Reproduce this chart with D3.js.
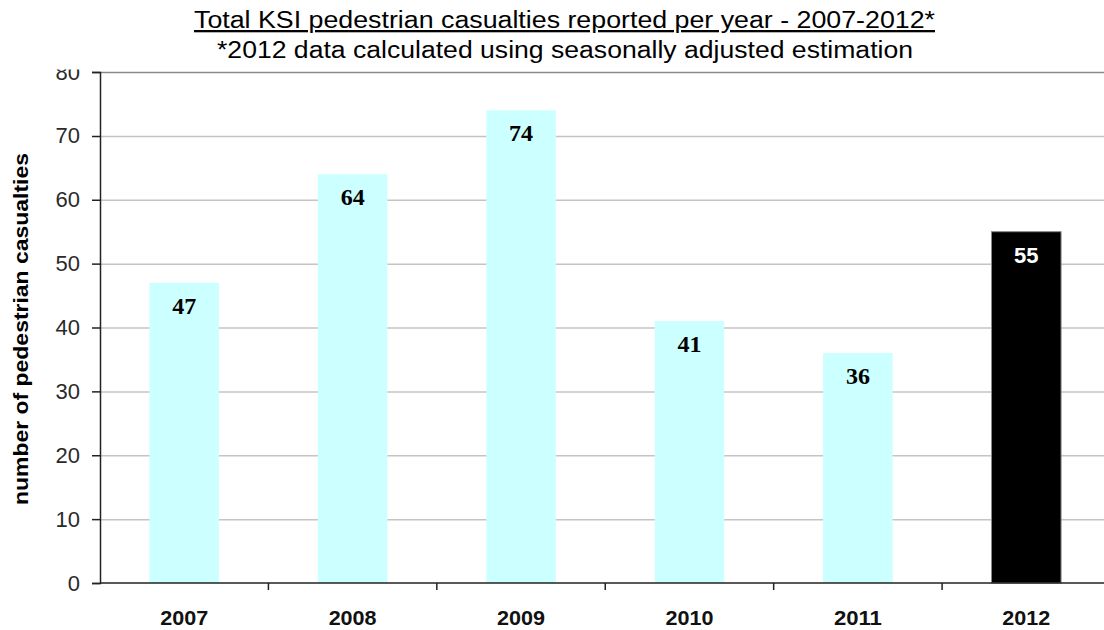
<!DOCTYPE html>
<html>
<head>
<meta charset="utf-8">
<script src="https://cdn.jsdelivr.net/npm/d3@7"></script>
<style>
  html, body { margin: 0; padding: 0; background: #fff; }
  svg { display: block; }
</style>
</head>
<body>
<svg id="chart" width="1104" height="630"></svg>
<script>
// KSI (killed or seriously injured) pedestrian casualties per year
const years = ["2007", "2008", "2009", "2010", "2011", "2012"];
const casualties = [47, 64, 74, 41, 36, 55];
const estimated = [false, false, false, false, false, true];
const yTicks = [0, 10, 20, 30, 40, 50, 60, 70, 80];

const titleText = "Total KSI pedestrian casualties reported per year - 2007-2012*";
const subtitleText = "*2012 data calculated using seasonally adjusted estimation";
const yAxisTitle = "number of pedestrian casualties";

const svg = d3.select("#chart");
const plot = { left: 100, right: 1110.5, top: 72, bottom: 583 };
const sans = "'Liberation Sans', Arial, sans-serif";

const x = d3.scaleBand()
  .domain(years)
  .range([plot.left, plot.right])
  .paddingInner(0.587)
  .paddingOuter(0.2935);

const y = d3.scaleLinear()
  .domain([0, 80])
  .range([plot.bottom, plot.top]);

// the chart frame crops anything drawn above its top edge
svg.append("defs").append("clipPath")
  .attr("id", "frame")
  .append("rect")
  .attr("x", 0).attr("y", 69.5)
  .attr("width", 1104).attr("height", 630 - 69.5);

// horizontal gridlines
svg.append("g")
  .selectAll("line")
  .data(yTicks.filter(t => t > 0 && t < 80))
  .join("line")
  .attr("x1", plot.left).attr("x2", plot.right)
  .attr("y1", d => y(d) + 0.5).attr("y2", d => y(d) + 0.5)
  .attr("stroke", "#c4c4c4")
  .attr("stroke-width", 1.5);

// top border of plot area
svg.append("line")
  .attr("x1", plot.left).attr("x2", plot.right)
  .attr("y1", y(80) + 0.5).attr("y2", y(80) + 0.5)
  .attr("stroke", "#8a8a8a")
  .attr("stroke-width", 1.5);

// bars
svg.append("g")
  .selectAll("rect")
  .data(years)
  .join("rect")
  .attr("x", d => x(d))
  .attr("width", x.bandwidth())
  .attr("y", (d, i) => y(casualties[i]))
  .attr("height", (d, i) => y(0) - y(casualties[i]))
  .attr("fill", (d, i) => estimated[i] ? "#000000" : "#ccffff")
  .attr("stroke", (d, i) => estimated[i] ? "#8a8a8a" : "none")
  .attr("stroke-width", 1);

// value labels inside bar tops
svg.append("g")
  .selectAll("text")
  .data(years)
  .join("text")
  .attr("x", d => x(d) + x.bandwidth() / 2)
  .attr("y", (d, i) => y(casualties[i]) + 31)
  .attr("text-anchor", "middle")
  .attr("font-family", (d, i) => estimated[i] ? sans : "'Liberation Serif', 'Times New Roman', serif")
  .attr("font-weight", "bold")
  .attr("font-size", (d, i) => estimated[i] ? 22 : 24)
  .attr("fill", (d, i) => estimated[i] ? "#ffffff" : "#000000")
  .text((d, i) => casualties[i]);

// y axis (clipped at the frame top)
const yAxis = d3.axisLeft(y)
  .tickValues(yTicks)
  .tickSize(8)
  .tickPadding(12)
  .tickFormat(d3.format("d"));

const gy = svg.append("g")
  .attr("clip-path", "url(#frame)")
  .append("g")
  .attr("transform", `translate(${plot.left},0)`)
  .call(yAxis);
gy.select(".domain").attr("stroke", "#222").attr("stroke-width", 1.5);
gy.selectAll(".tick line").attr("stroke", "#222").attr("stroke-width", 1.5);
gy.selectAll(".tick text")
  .attr("font-family", sans)
  .attr("font-size", 22)
  .attr("fill", "#2a2a2a");

// x axis: baseline with ticks at category boundaries
svg.append("line")
  .attr("x1", plot.left).attr("x2", plot.right)
  .attr("y1", plot.bottom).attr("y2", plot.bottom)
  .attr("stroke", "#222").attr("stroke-width", 1.5);

const boundaries = years.slice(1).map(d => x(d) - x.step() * x.paddingInner() / 2);
svg.append("g")
  .selectAll("line")
  .data(boundaries)
  .join("line")
  .attr("x1", d => d).attr("x2", d => d)
  .attr("y1", plot.bottom).attr("y2", plot.bottom + 7)
  .attr("stroke", "#222").attr("stroke-width", 1.5);

svg.append("g")
  .selectAll("text")
  .data(years)
  .join("text")
  .attr("x", d => x(d) + x.bandwidth() / 2)
  .attr("y", 625)
  .attr("text-anchor", "middle")
  .attr("font-family", sans)
  .attr("font-weight", "bold")
  .attr("font-size", 21)
  .attr("textLength", 48)
  .attr("lengthAdjust", "spacingAndGlyphs")
  .attr("fill", "#111")
  .text(d => d);

// y axis title
svg.append("text")
  .attr("transform", `translate(28,${(153 + 505) / 2}) rotate(-90)`)
  .attr("text-anchor", "middle")
  .attr("font-family", sans)
  .attr("font-weight", "bold")
  .attr("font-size", 20)
  .attr("textLength", 352)
  .attr("lengthAdjust", "spacingAndGlyphs")
  .attr("fill", "#000")
  .text(yAxisTitle);

// title and subtitle
svg.append("text")
  .attr("x", 564.5).attr("y", 28)
  .attr("text-anchor", "middle")
  .attr("font-family", sans)
  .attr("font-size", 23)
  .attr("textLength", 741)
  .attr("lengthAdjust", "spacingAndGlyphs")
  .attr("text-decoration", "underline")
  .attr("fill", "#000")
  .text(titleText);

svg.append("text")
  .attr("x", 565).attr("y", 58)
  .attr("text-anchor", "middle")
  .attr("font-family", sans)
  .attr("font-size", 23)
  .attr("textLength", 696)
  .attr("lengthAdjust", "spacingAndGlyphs")
  .attr("fill", "#000")
  .text(subtitleText);
</script>
</body>
</html>
